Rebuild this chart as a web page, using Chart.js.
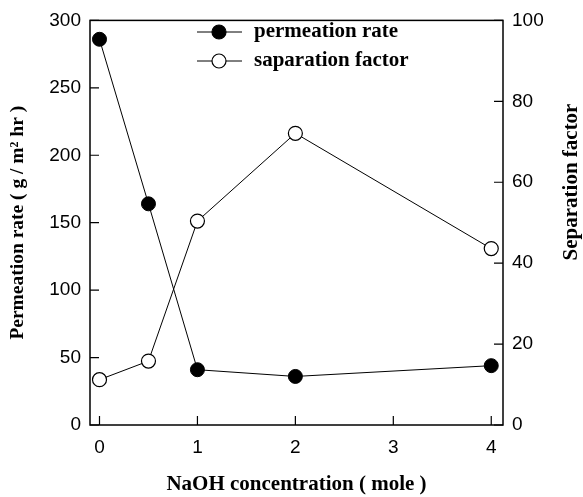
<!DOCTYPE html>
<html>
<head>
<meta charset="utf-8">
<script src="https://cdn.jsdelivr.net/npm/chart.js@4"></script>
<style>
html,body{margin:0;padding:0;background:#fff;}
#wrap{width:583px;height:497px;position:relative;}
</style>
</head>
<body>
<div id="wrap"><canvas id="c" width="583" height="497"></canvas></div>
<script>
const naohConc = [0, 0.5, 1, 2, 4];
const permeationRate = [286, 164, 41, 36, 44];
const separationFactor = [11.2, 15.8, 50.4, 72.1, 43.6];
const xTicks = [0, 1, 2, 3, 4];
const leftTicks = [0, 50, 100, 150, 200, 250, 300];
const rightTicks = [0, 20, 40, 60, 80, 100];
const seriesNames = ['permeation rate', 'saparation factor'];
const xTitle = 'NaOH concentration ( mole )';
const yTitle = 'Permeation rate ( g / m\u00B2 hr )';
const y2Title = 'Separation factor';

const tickFont = {family: "'Liberation Sans', Arial, sans-serif", size: 19};
const titleFont = {family: "'Liberation Serif', 'Times New Roman', serif", size: 21, weight: 'bold'};
const yTitleFont = {family: "'Liberation Serif', 'Times New Roman', serif", size: 19.5, weight: 'bold'};

const framePlugin = {
  id: 'frame',
  afterDatasetsDraw(chart) {
    const {ctx, chartArea: a, scales} = chart;
    ctx.save();
    ctx.strokeStyle = '#000';
    ctx.lineWidth = 1.5;
    ctx.strokeRect(a.left, a.top, a.right - a.left, a.bottom - a.top);
    ctx.lineWidth = 1.2;
    ctx.beginPath();
    const L = 9;
    scales.x.ticks.forEach(t => {
      const px = scales.x.getPixelForValue(t.value);
      ctx.moveTo(px, a.bottom); ctx.lineTo(px, a.bottom - L);
    });
    scales.y.ticks.forEach(t => {
      const py = scales.y.getPixelForValue(t.value);
      ctx.moveTo(a.left, py); ctx.lineTo(a.left + L, py);
    });
    scales.y2.ticks.forEach(t => {
      const py = scales.y2.getPixelForValue(t.value);
      ctx.moveTo(a.right, py); ctx.lineTo(a.right - L, py);
    });
    ctx.stroke();

    ctx.fillStyle = '#000';
    ctx.font = `bold ${titleFont.size}px ${titleFont.family}`;
    ctx.textAlign = 'center';
    ctx.textBaseline = 'middle';
    ctx.save();
    ctx.translate(572, 182);
    ctx.rotate(-Math.PI / 2);
    ctx.fillText(y2Title, 0, 0);
    ctx.restore();

    const rows = [32, 61];
    chart.data.datasets.forEach((ds, i) => {
      const y = rows[i];
      ctx.lineWidth = 1;
      ctx.strokeStyle = '#000';
      ctx.beginPath();
      ctx.moveTo(197, y); ctx.lineTo(242, y);
      ctx.stroke();
      ctx.beginPath();
      ctx.arc(219, y, 7, 0, Math.PI * 2);
      ctx.fillStyle = ds.pointBackgroundColor;
      ctx.fill();
      ctx.lineWidth = 1.2;
      ctx.stroke();
      ctx.fillStyle = '#000';
      ctx.textAlign = 'left';
      ctx.textBaseline = 'middle';
      ctx.fillText(ds.label, 254, y);
    });
    ctx.restore();
  }
};

new Chart(document.getElementById('c'), {
  type: 'line',
  data: {
    datasets: [
      {
        label: seriesNames[0],
        data: naohConc.map((x, i) => ({x, y: permeationRate[i]})),
        yAxisID: 'y',
        borderColor: '#000',
        borderWidth: 1,
        pointRadius: 7,
        pointBackgroundColor: '#000',
        pointBorderColor: '#000',
        pointBorderWidth: 1,
        tension: 0
      },
      {
        label: seriesNames[1],
        data: naohConc.map((x, i) => ({x, y: separationFactor[i]})),
        yAxisID: 'y2',
        borderColor: '#000',
        borderWidth: 1,
        pointRadius: 7,
        pointBackgroundColor: '#fff',
        pointBorderColor: '#000',
        pointBorderWidth: 1.2,
        tension: 0
      }
    ]
  },
  options: {
    responsive: false,
    animation: false,
    events: [],
    layout: {padding: {top: 17, left: 0, right: 0, bottom: 0}},
    plugins: {legend: {display: false}, tooltip: {enabled: false}},
    scales: {
      x: {
        type: 'linear',
        min: -0.097,
        max: 4.12,
        afterBuildTicks: s => { s.ticks = xTicks.map(v => ({value: v})); },
        afterFit: s => { s.height = 72; },
        grid: {display: false, drawTicks: false},
        border: {display: false},
        ticks: {font: tickFont, color: '#000', padding: 11, maxRotation: 0},
        title: {display: true, text: xTitle, font: titleFont, color: '#000', padding: {top: 11, bottom: 0}}
      },
      y: {
        type: 'linear',
        position: 'left',
        min: 0, max: 300,
        afterBuildTicks: s => { s.ticks = leftTicks.map(v => ({value: v})); },
        afterFit: s => { s.width = 90; },
        grid: {display: false, drawTicks: false},
        border: {display: false},
        ticks: {font: tickFont, color: '#000', padding: 9},
        title: {display: true, text: yTitle, font: yTitleFont, color: '#000', padding: {top: 6, bottom: 0}}
      },
      y2: {
        type: 'linear',
        position: 'right',
        min: 0, max: 100,
        afterBuildTicks: s => { s.ticks = rightTicks.map(v => ({value: v})); },
        afterFit: s => { s.width = 80; },
        grid: {display: false, drawTicks: false},
        border: {display: false},
        ticks: {font: tickFont, color: '#000', padding: 9},
        title: {display: false}
      }
    }
  },
  plugins: [framePlugin]
});
</script>
</body>
</html>
